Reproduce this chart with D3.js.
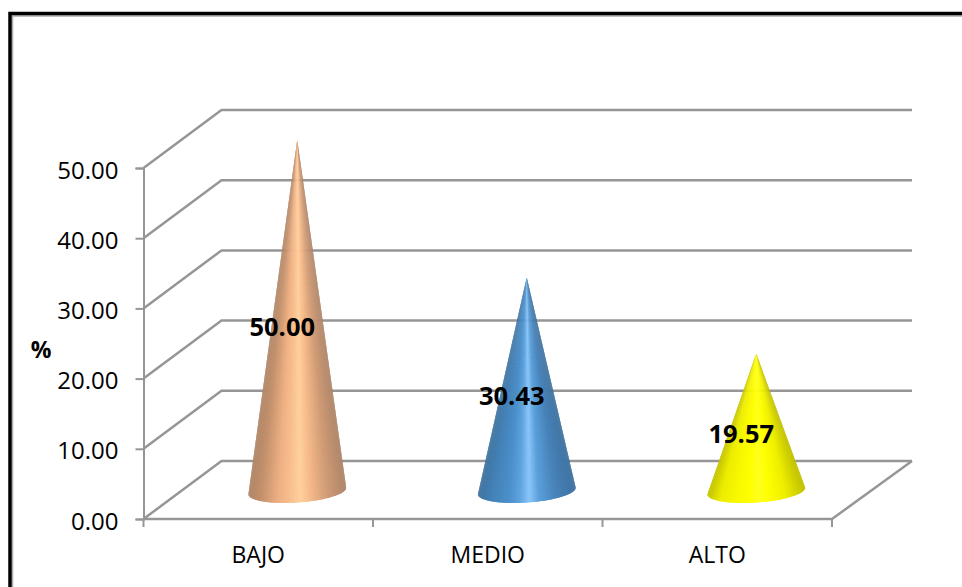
<!DOCTYPE html>
<html>
<head>
<meta charset="utf-8">
<script src="https://cdn.jsdelivr.net/npm/d3@7/dist/d3.min.js"></script>
<style>
  html, body { margin: 0; padding: 0; background: #fff; }
  svg { display: block; }
</style>
</head>
<body>
<div id="chart"></div>
<script>
// Distribution by level
const categories = ["BAJO", "MEDIO", "ALTO"];
const values = [50.00, 30.43, 19.57];
const valueTicks = [0, 10, 20, 30, 40, 50];
const axisTitle = "%";

// Shading of each cone, left edge to right edge of its base
const shadeOffsets = [0, 0.12, 0.3, 0.42, 0.52, 0.62, 0.8, 1];
const coneShades = [
  ["#b08567", "#c3916c", "#eeb084", "#f9bf8e", "#ffd09f", "#f7bb8b", "#d09c76", "#ad8468"],
  ["#40749f", "#4380b6", "#4b8fca", "#5ea3dd", "#8ac6fb", "#5a9fd9", "#4782b8", "#3f72a0"],
  ["#c4c400", "#ecec00", "#f9f900", "#ffff00", "#ffff20", "#ffff00", "#eeee00", "#c0c000"]
];

const width = 962, height = 587;
const gridColor = "#969696";

// Oblique projection: the floor recedes up and to the right
const depthLeft = 78, depthRight = 80, depthY = -58;

const x = d3.scaleBand().domain(categories).range([143.5, 832]);
const y = d3.scaleLinear().domain([0, 50]).range([519, 168]);

const svg = d3.select("#chart").append("svg")
  .attr("width", width).attr("height", height);

// Outer frame, running off the right and bottom of the page
svg.append("rect")
  .attr("x", 12.5).attr("y", 16).attr("width", width + 20).attr("height", height + 20)
  .attr("fill", "none").attr("stroke", "#a8a8a8").attr("stroke-width", 1.5);
svg.append("rect")
  .attr("x", 10).attr("y", 13.5).attr("width", width + 20).attr("height", height + 20)
  .attr("fill", "none").attr("stroke", "#000").attr("stroke-width", 3.5);

const grid = svg.append("g")
  .attr("fill", "none").attr("stroke", gridColor).attr("stroke-width", 2.5);

const x0 = x.range()[0], x1 = x.range()[1];

// Side wall and back wall gridlines
grid.selectAll("path.wall").data(valueTicks).join("path")
  .attr("class", "wall")
  .attr("d", v => d3.line()([
    [x0, y(v)],
    [x0 + depthLeft, y(v) + depthY],
    [x1 + depthRight, y(v) + depthY]
  ]));

// Front and right edges of the floor
grid.append("path").attr("d", d3.line()([
  [x0, y(0)], [x1, y(0)], [x1 + depthRight, y(0) + depthY]
]));

// Value axis
const yAxis = d3.axisLeft(y).tickValues(valueTicks)
  .tickFormat(d3.format(".2f")).tickSize(8).tickPadding(17);
const yAxisG = svg.append("g")
  .attr("transform", `translate(${x0},0)`)
  .call(yAxis);
yAxisG.select(".domain").attr("stroke", gridColor).attr("stroke-width", 2);
yAxisG.selectAll(".tick line").attr("stroke", gridColor).attr("stroke-width", 2);
yAxisG.selectAll(".tick text")
  .attr("fill", "#000")
  .attr("dy", "0.42em")
  .attr("font-family", "'Open Sans', sans-serif")
  .attr("font-size", 24);

// Category axis, ticks on the band boundaries
const bandEdges = categories.map(c => x(c)).concat([x1]);
svg.append("g").attr("stroke", gridColor).attr("stroke-width", 2)
  .selectAll("line").data(bandEdges).join("line")
  .attr("x1", d => d).attr("x2", d => d)
  .attr("y1", y(0)).attr("y2", y(0) + 8);

svg.append("g").selectAll("text").data(categories).join("text")
  .attr("x", c => x(c) + x.bandwidth() / 2)
  .attr("y", 563)
  .attr("text-anchor", "middle")
  .attr("font-family", "'Open Sans', sans-serif")
  .attr("font-size", 23)
  .attr("fill", "#000")
  .text(c => c);

// Axis title
svg.append("text")
  .attr("x", 41).attr("y", 358)
  .attr("text-anchor", "middle")
  .attr("font-family", "'Open Sans', sans-serif")
  .attr("font-weight", 700)
  .attr("font-size", 23)
  .attr("fill", "#000")
  .text(axisTitle);

// Cones: fan of thin triangles from the apex to the front arc of a tilted
// elliptical base. Each triangle overlaps the next so no seams show, and the
// shading converges on the tip.
const baseRx = 49, baseRy = 11.5, tilt = -4 * Math.PI / 180;
const sliceCount = 100;
const arcParams = d3.range(sliceCount + 1).map(i => Math.PI - Math.PI * i / sliceCount);

const cones = svg.append("g").selectAll("g").data(categories).join("g");

cones.each(function (c, i) {
  const cx = x(c) + x.bandwidth() / 2 + depthLeft / 2;
  const cy = y(0) + depthY / 2 + 1;
  const apexY = cy - (y(0) - y(values[i]));
  const shade = d3.scaleLinear().domain(shadeOffsets).range(coneShades[i])
    .interpolate(d3.interpolateRgb);

  const rim = arcParams.map(t => [
    cx + baseRx * Math.cos(t) * Math.cos(tilt) - baseRy * Math.sin(t) * Math.sin(tilt),
    cy + baseRx * Math.cos(t) * Math.sin(tilt) + baseRy * Math.sin(t) * Math.cos(tilt)
  ]);

  const slices = d3.range(sliceCount).map(k => rim.slice(k, Math.min(k + 3, rim.length)));
  d3.select(this).selectAll("path").data(slices).join("path")
    .attr("d", pts => d3.line()([[cx, apexY], ...pts]) + "Z")
    .attr("fill", pts => shade((pts[0][0] - (cx - baseRx)) / (2 * baseRx)));
});

// Value labels, set at mid height of each cone and left of its axis
svg.append("g").selectAll("text").data(categories).join("text")
  .attr("x", c => x(c) + x.bandwidth() / 2 + 24)
  .attr("y", (c, i) => y(0) + depthY / 2 - (y(0) - y(values[i])) / 2 + 21.5)
  .attr("text-anchor", "middle")
  .attr("font-family", "'Open Sans', sans-serif")
  .attr("font-weight", 700)
  .attr("font-size", 25.5)
  .attr("fill", "#000")
  .text((c, i) => d3.format(".2f")(values[i]));
</script>
</body>
</html>
